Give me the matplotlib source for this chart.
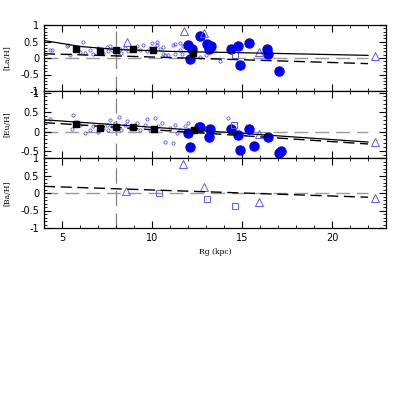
#abundance gradients of La, Eu and Ba along the galactocentric distance
import matplotlib.pyplot as plt
import numpy as np

# --- [La/H] panel ---
la_ceph_x = [4.33, 4.43, 5.26, 5.35, 5.44, 6.0, 6.18, 6.28, 6.56, 6.74, 7.02, 7.3, 7.48, 7.57, 7.67, 7.76,
             8.04, 8.22, 8.3, 8.5, 8.68, 9.15, 9.33, 9.52, 9.7, 9.89, 9.98, 10.26, 10.26, 10.44, 10.63, 10.63,
             10.72, 10.9, 11.18, 11.28, 11.28, 11.56, 11.56, 11.65, 11.74, 12.67, 13.0, 13.44, 13.8]
la_ceph_y = [0.23, 0.23, 0.35, 0.38, 0.10, 0.18, 0.50, 0.15, 0.23, 0.13, 0.31, 0.15, 0.33, 0.21, 0.35, 0.25,
             0.13, 0.28, 0.15, 0.31, 0.21, 0.35, 0.25, 0.38, 0.21, 0.31, 0.44, 0.38, 0.47, 0.28, 0.33, 0.13,
             0.10, 0.08, 0.38, 0.13, 0.41, 0.23, 0.44, 0.13, 0.35, 0.03, 0.10, 0.21, -0.09]
la_big_x = [12.0, 12.2, 12.1, 12.67, 13.07, 13.26, 13.18, 14.37, 14.8, 15.37, 14.9, 16.37, 16.46, 17.06]
la_big_y = [0.38, 0.28, -0.02, 0.66, 0.41, 0.35, 0.28, 0.26, 0.36, 0.44, -0.20, 0.26, 0.13, -0.40]
la_tri_x = [8.6, 11.78, 12.9, 15.96, 22.4]
la_tri_y = [0.47, 0.82, 0.76, 0.18, 0.06]
la_sq_x = [14.6]
la_sq_y = [0.10]
la_bin_x = [5.8, 7.1, 8.0, 8.96, 10.07, 12.3]
la_bin_y = [0.26, 0.22, 0.24, 0.28, 0.25, 0.16]
la_bin_err = [0.05, 0.04, 0.04, 0.04, 0.05, 0.05]
la_fit_x = [4, 22]
la_fit_y = [0.13, -0.17]
la_fit2_x = [4, 6, 8, 11, 15, 22]
la_fit2_y = [0.53, 0.35, 0.26, 0.20, 0.16, 0.08]

# --- [Eu/H] panel ---
eu_ceph_x = [4.33, 5.63, 5.54, 6.0, 6.28, 6.56, 6.74, 7.02, 7.3, 7.48, 7.57, 7.67, 7.76, 7.94, 8.18, 8.3,
             8.5, 8.59, 8.78, 9.15, 9.33, 9.61, 9.7, 9.89, 10.17, 10.35, 10.54, 10.72, 11.0, 11.18, 11.28,
             11.56, 11.83, 12.0, 11.37, 14.2]
eu_ceph_y = [0.32, 0.43, 0.06, 0.17, -0.04, 0.03, 0.13, 0.0, 0.09, 0.17, 0.03, 0.30, 0.13, 0.22, 0.38, 0.03,
             0.17, 0.26, 0.09, 0.22, 0.04, 0.17, 0.32, 0.03, 0.34, 0.13, 0.22, -0.26, 0.09, -0.30, 0.17,
             0.04, 0.13, 0.22, -0.04, 0.34]
eu_big_x = [12.1, 12.0, 12.6, 12.67, 13.2, 13.18, 14.37, 14.8, 15.37, 14.9, 15.68, 16.43, 17.07, 17.15]
eu_big_y = [-0.41, -0.03, 0.11, 0.11, 0.06, -0.14, 0.06, -0.10, 0.06, -0.47, -0.36, -0.14, -0.54, -0.50]
eu_tri_x = [15.96, 22.4]
eu_tri_y = [-0.07, -0.28]
eu_sq_x = [14.57]
eu_sq_y = [0.17]
eu_bin_x = [5.78, 7.11, 8.0, 8.96, 10.11, 12.33]
eu_bin_y = [0.20, 0.09, 0.11, 0.11, 0.06, 0.03]
eu_bin_err = [0.06, 0.04, 0.04, 0.05, 0.05, 0.05]
eu_fit_x = [4, 22]
eu_fit_y = [0.23, -0.32]
eu_fit2_x = [4, 22]
eu_fit2_y = [0.30, -0.27]

# --- [Ba/H] panel ---
ba_tri_x = [8.56, 11.74, 12.9, 15.96, 22.4]
ba_tri_y = [0.07, 0.83, 0.18, -0.27, -0.15]
ba_sq_x = [10.4, 13.04, 14.6]
ba_sq_y = [0.0, -0.17, -0.36]
ba_fit_x = [4, 22]
ba_fit_y = [0.19, -0.12]

sun_x = [4, 22]
sun_y = [0, 0]

openc = '#5a5aff'
fig = plt.figure(figsize=(4.07, 4.07), dpi=100)
L, W = 44/407, 342/407
ax1 = fig.add_axes([L, 1-91/407, W, 66/407])
ax2 = fig.add_axes([L, 1-158/407, W, 67/407])
ax3 = fig.add_axes([L, 1-228/407, W, 70/407])

def style(ax, ylo, yhi, label):
    ax.set_xticks([5, 10, 15, 20])
    ax.set_xticks(range(4, 24), minor=True)
    ax.set_yticks([-1, -0.5, 0, 0.5, 1])
    ax.set_yticks(np.arange(-1, 1.01, 0.1), minor=True)
    ax.set_yticklabels(['-1', '-0.5', '0', '0.5', '1'])
    ax.set_xlim(4, 23)
    ax.set_ylim(ylo, yhi)
    ax.tick_params(which='both', direction='in', top=True, right=True, labelsize=7)
    ax.tick_params(which='major', length=5, width=0.8)
    ax.tick_params(which='minor', length=2.5, width=0.6)
    ax.set_ylabel(label, fontsize=5.5, family='DejaVu Serif', labelpad=8)
    ax.yaxis.set_label_coords(-0.095, 0.5)
    for s in ax.spines.values():
        s.set_linewidth(0.9)
    ax.axvline(8, color='gray', lw=0.9, dashes=(12, 6), zorder=0)
    ax.plot(sun_x, sun_y, color='#999999', lw=1.0, dashes=(10, 5), zorder=1)

style(ax1, -1, 1, '[La/H]')
style(ax2, -0.68, 1.04, '[Eu/H]')
style(ax3, -1, 1, '[Ba/H]')
ax1.tick_params(labelbottom=False)
ax2.tick_params(labelbottom=False)
ax3.set_xlabel('Rg (kpc)', fontsize=5.5, family='DejaVu Serif')

# La
ax1.plot(la_ceph_x, la_ceph_y, 'o', ms=2.3, mfc='none', mec=openc, mew=0.6)
ax1.plot(la_big_x, la_big_y, 'o', ms=6.5, color='blue', mec='blue')
ax1.plot(la_tri_x, la_tri_y, '^', ms=6, mfc='none', mec=openc, mew=0.7)
ax1.plot(la_sq_x, la_sq_y, 's', ms=5, mfc='none', mec=openc, mew=0.7)
ax1.errorbar(la_bin_x, la_bin_y, yerr=la_bin_err, fmt='s', ms=4, color='black', capsize=1.5, elinewidth=0.6)
ax1.plot(la_fit_x, la_fit_y, color='black', lw=1, dashes=(8, 4))
ax1.plot(la_fit2_x, la_fit2_y, color='black', lw=0.9)

# Eu
ax2.plot(eu_ceph_x, eu_ceph_y, 'o', ms=2.3, mfc='none', mec=openc, mew=0.6)
ax2.plot(eu_big_x, eu_big_y, 'o', ms=6.5, color='blue', mec='blue')
ax2.plot(eu_tri_x, eu_tri_y, '^', ms=6, mfc='none', mec=openc, mew=0.7)
ax2.plot(eu_sq_x, eu_sq_y, 's', ms=5, mfc='none', mec=openc, mew=0.7)
ax2.errorbar(eu_bin_x, eu_bin_y, yerr=eu_bin_err, fmt='s', ms=4, color='black', capsize=1.5, elinewidth=0.6)
ax2.plot(eu_fit_x, eu_fit_y, color='black', lw=1, dashes=(8, 4))
ax2.plot(eu_fit2_x, eu_fit2_y, color='black', lw=0.9)

# Ba
ax3.plot(ba_tri_x, ba_tri_y, '^', ms=6, mfc='none', mec=openc, mew=0.7)
ax3.plot(ba_sq_x, ba_sq_y, 's', ms=5, mfc='none', mec=openc, mew=0.7)
ax3.plot(ba_fit_x, ba_fit_y, color='black', lw=1, dashes=(8, 4))

fig.savefig('out.png', dpi=100)
